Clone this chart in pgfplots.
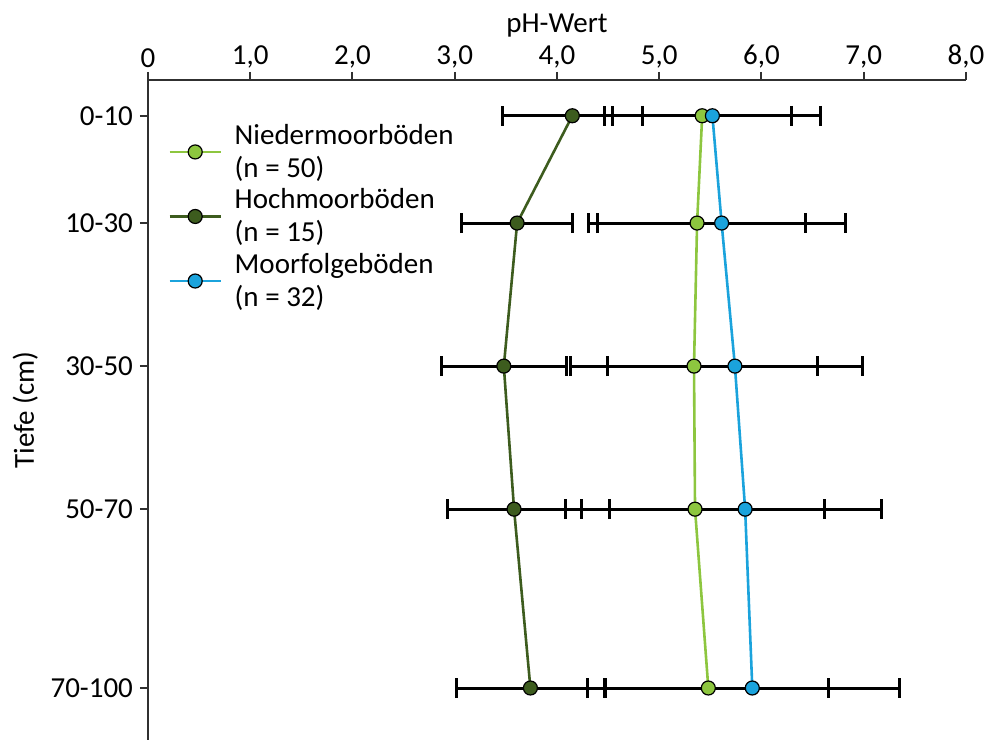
\documentclass[border=0pt]{standalone}
\usepackage{pgfplots}
\usepackage{pgfplotstable}
\pgfplotsset{compat=1.18}
\usepackage{fontspec}
\setmainfont{Carlito}
\definecolor{nieder}{HTML}{8DC63F}
\definecolor{hoch}{HTML}{3D5C1E}
\definecolor{folge}{HTML}{1BA3DC}
\definecolor{axc}{HTML}{303030}

\pgfplotstableread{
depth ph err
5  5.42 0.875
20 5.37 1.06
40 5.34 1.21
60 5.35 1.27
85 5.48 1.18
}\nieder
\pgfplotstableread{
depth ph err
5  4.15 0.685
20 3.61 0.545
40 3.48 0.61
60 3.58 0.655
85 3.74 0.72
}\hoch
\pgfplotstableread{
depth ph err
5  5.52 1.06
20 5.61 1.21
40 5.74 1.25
60 5.84 1.33
85 5.91 1.44
}\folge

\pgfplotsset{
  ebar/.style={draw=none, mark=none, forget plot, error bars/.cd, x dir=both, x explicit,
    error mark=|,
    error bar style={draw=black, solid, line width=1.5pt},
    error mark options={draw=black, solid, line width=1.5pt, mark size=5pt}},
}

\begin{document}
\begin{tikzpicture}
\begin{axis}[
  at={(0,0)}, anchor=south west,
  scale only axis,
  width=409pt, height=330pt,
  font=\fontsize{14.5}{16.5}\selectfont,
  /pgf/number format/assume math mode=true,
  xmin=0, xmax=8, ymin=0, ymax=92.27,
  y dir=reverse,
  axis x line*=top, axis y line*=left,
  axis line style={axc, line width=1pt, -},
  xtick={0,1,...,8},
  xticklabels={0,{1,0},{2,0},{3,0},{4,0},{5,0},{6,0},{7,0},{8,0}},
  ytick={5,20,40,60,85},
  yticklabels={0-10,10-30,30-50,50-70,70-100},
  tick align=outside,
  major tick length=4pt,
  tick style={axc, line width=1pt},
  xticklabel pos=top,
  xticklabel style={yshift=-1.5pt},
  xlabel={pH-Wert}, xlabel near ticks,
  xlabel style={yshift=-3pt},
  ylabel={Tiefe (cm)},
  ylabel style={at={(axis description cs:-0.150,0.5)}, anchor=center},
  legend style={draw=none, fill=none, at={(axis description cs:0.017,0.942)}, anchor=north west,
    cells={align=left, anchor=west}, row sep=3pt,
    font=\fontsize{14.5}{16.5}\selectfont,
    nodes={inner sep=0.6pt}},
  legend image code/.code={\draw[mark repeat=2,mark phase=2] plot coordinates {(0cm,0cm)(0.45cm,0cm)(0.9cm,0cm)};\path (1.1cm,0cm);},
  every axis plot/.append style={mark=*, mark size=3.5pt, line width=1.3pt},
]
% error bars first
\addplot[ebar] table[x=ph, y=depth, x error=err] {\nieder};
\addplot[ebar] table[x=ph, y=depth, x error=err] {\hoch};
\addplot[ebar] table[x=ph, y=depth, x error=err] {\folge};
% series
\addplot[nieder, mark options={draw=black, fill=nieder, line width=0.6pt, solid}] table[x=ph, y=depth] {\nieder};
\addlegendentry{Niedermoorböden\\(n = 50)}
\addplot[hoch, mark options={draw=black, fill=hoch, line width=0.6pt, solid}] table[x=ph, y=depth] {\hoch};
\addlegendentry{Hochmoorböden\\(n = 15)}
\addplot[folge, mark options={draw=black, fill=folge, line width=0.6pt, solid}] table[x=ph, y=depth] {\folge};
\addlegendentry{Moorfolgeböden\\(n = 32)}
\end{axis}
\pgfresetboundingbox
\useasboundingbox (-74pt,0pt) rectangle (419.5pt,370pt);
\end{tikzpicture}
\end{document}
